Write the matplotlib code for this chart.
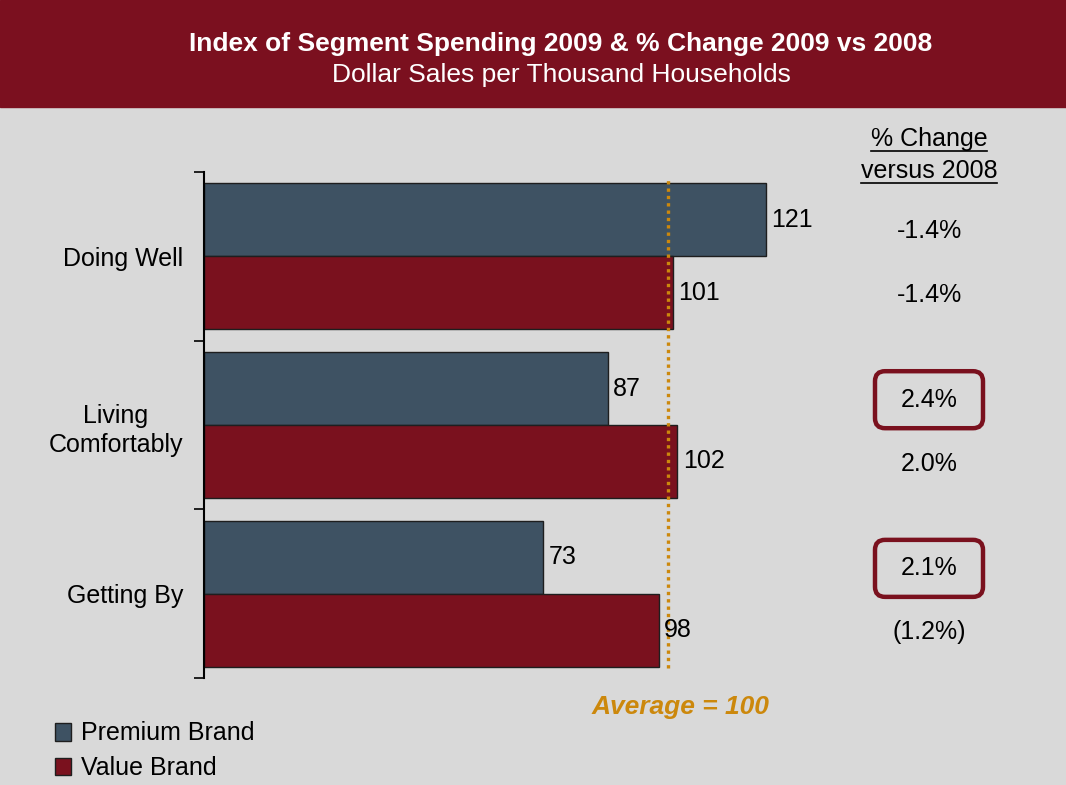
import matplotlib
matplotlib.use('Agg')
import matplotlib.pyplot as plt
from matplotlib.patches import FancyBboxPatch, Rectangle
from matplotlib.lines import Line2D
from matplotlib.transforms import IdentityTransform, blended_transform_factory
import numpy as np

plt.rcParams['font.family'] = ['Liberation Sans', 'DejaVu Sans']

categories = ['Doing Well', 'Living\nComfortably', 'Getting By']
premium = [121, 87, 73]
value = [101, 102, 98]
pct_premium = ['-1.4%', '2.4%', '2.1%']
pct_value = ['-1.4%', '2.0%', '(1.2%)']
highlight_premium = [False, True, True]
average = 100

PREM_C = '#3E5263'
VAL_C = '#7A111E'
BG = '#D9D9D9'
ORANGE = '#CC880C'

W, H = 1066, 785
fig = plt.figure(figsize=(W / 100, H / 100), dpi=100, facecolor=BG)

# title band
fig.add_artist(Rectangle((0, 1 - 107 / H), 1, 107 / H, transform=fig.transFigure,
                         color='#7B101F', zorder=0))
fig.text(561 / W, 1 - 44 / H, 'Index of Segment Spending 2009 & % Change 2009 vs 2008',
         ha='center', va='center', fontsize=19, fontweight='bold', color='white')
fig.text(561 / W, 1 - 75 / H, 'Dollar Sales per Thousand Households',
         ha='center', va='center', fontsize=19, color='white')

ax = fig.add_axes([204 / W, 1 - 678 / H, 840 / W, (678 - 172) / H])
ax.set_facecolor('none')
y = np.arange(len(categories))
h = 0.432
b1 = ax.barh(y - h / 2, premium, height=h, color=PREM_C, edgecolor='#1e1e1e', lw=1,
             label='Premium Brand')
b2 = ax.barh(y + h / 2, value, height=h, color=VAL_C, edgecolor='#1e1e1e', lw=1,
             label='Value Brand')
ax.set_xlim(0, 181)
ax.set_ylim(2.5, -0.5)
for s in ['top', 'right', 'bottom']:
    ax.spines[s].set_visible(False)
ax.spines['left'].set_linewidth(1.5)
ax.set_xticks([])
ax.set_yticks([-0.5, 0.5, 1.5, 2.5])
ax.set_yticklabels([])
ax.tick_params(axis='y', which='major', length=7, width=1.2)
ax.set_yticks(y, minor=True)
ax.set_yticklabels(categories, minor=True, fontsize=18, multialignment='center',
                   linespacing=1.3)
ax.tick_params(axis='y', which='minor', length=0, pad=15)

ax.bar_label(b1, padding=4, fontsize=18)
ax.bar_label(b2, padding=4, fontsize=18)

ax.axvline(average, ymin=0.02, ymax=0.984, color=ORANGE, ls=(0, (1, 1.2)), lw=2.4)
fig.text(680 / W, 1 - 707 / H, f'Average = {average}', ha='center', va='center',
         fontsize=19, fontweight='bold', fontstyle='italic', color=ORANGE)

# % change column
tr = blended_transform_factory(fig.transFigure, ax.transData)
xc = 929 / W
for i in range(len(categories)):
    yp, yv = i - 0.15, i + 0.23
    ax.text(xc, yp, pct_premium[i], transform=tr, ha='center', va='center', fontsize=18)
    ax.text(xc, yv, pct_value[i], transform=tr, ha='center', va='center', fontsize=18)
    if highlight_premium[i]:
        px, py = tr.transform((xc, yp))
        fig.add_artist(FancyBboxPatch((px - 54, py - 28.5), 108, 57,
                                      boxstyle='round,pad=0,rounding_size=10',
                                      transform=IdentityTransform(), ec=VAL_C, fc='none',
                                      lw=3.2, zorder=3))

hdr1 = fig.text(xc, 1 - 139 / H, '% Change', ha='center', va='center', fontsize=18)
hdr2 = fig.text(xc, 1 - 171 / H, 'versus 2008', ha='center', va='center', fontsize=18)

fig.legend(handles=[b1, b2], loc='lower left', bbox_to_anchor=(55 / W, 5 / H),
           frameon=False, fontsize=18, handlelength=0.65, handleheight=0.7,
           handletextpad=0.4, labelspacing=0.42, borderpad=0, borderaxespad=0)

fig.canvas.draw()
r = fig.canvas.get_renderer()
for t in (hdr1, hdr2):
    bb = t.get_window_extent(r)
    _, cy = t.get_transform().transform(t.get_position())
    yl = cy - 12
    fig.add_artist(Line2D([bb.x0, bb.x1], [yl, yl], transform=IdentityTransform(),
                          color='black', lw=1.2))

fig.savefig('out.png', dpi=100, facecolor=BG)
